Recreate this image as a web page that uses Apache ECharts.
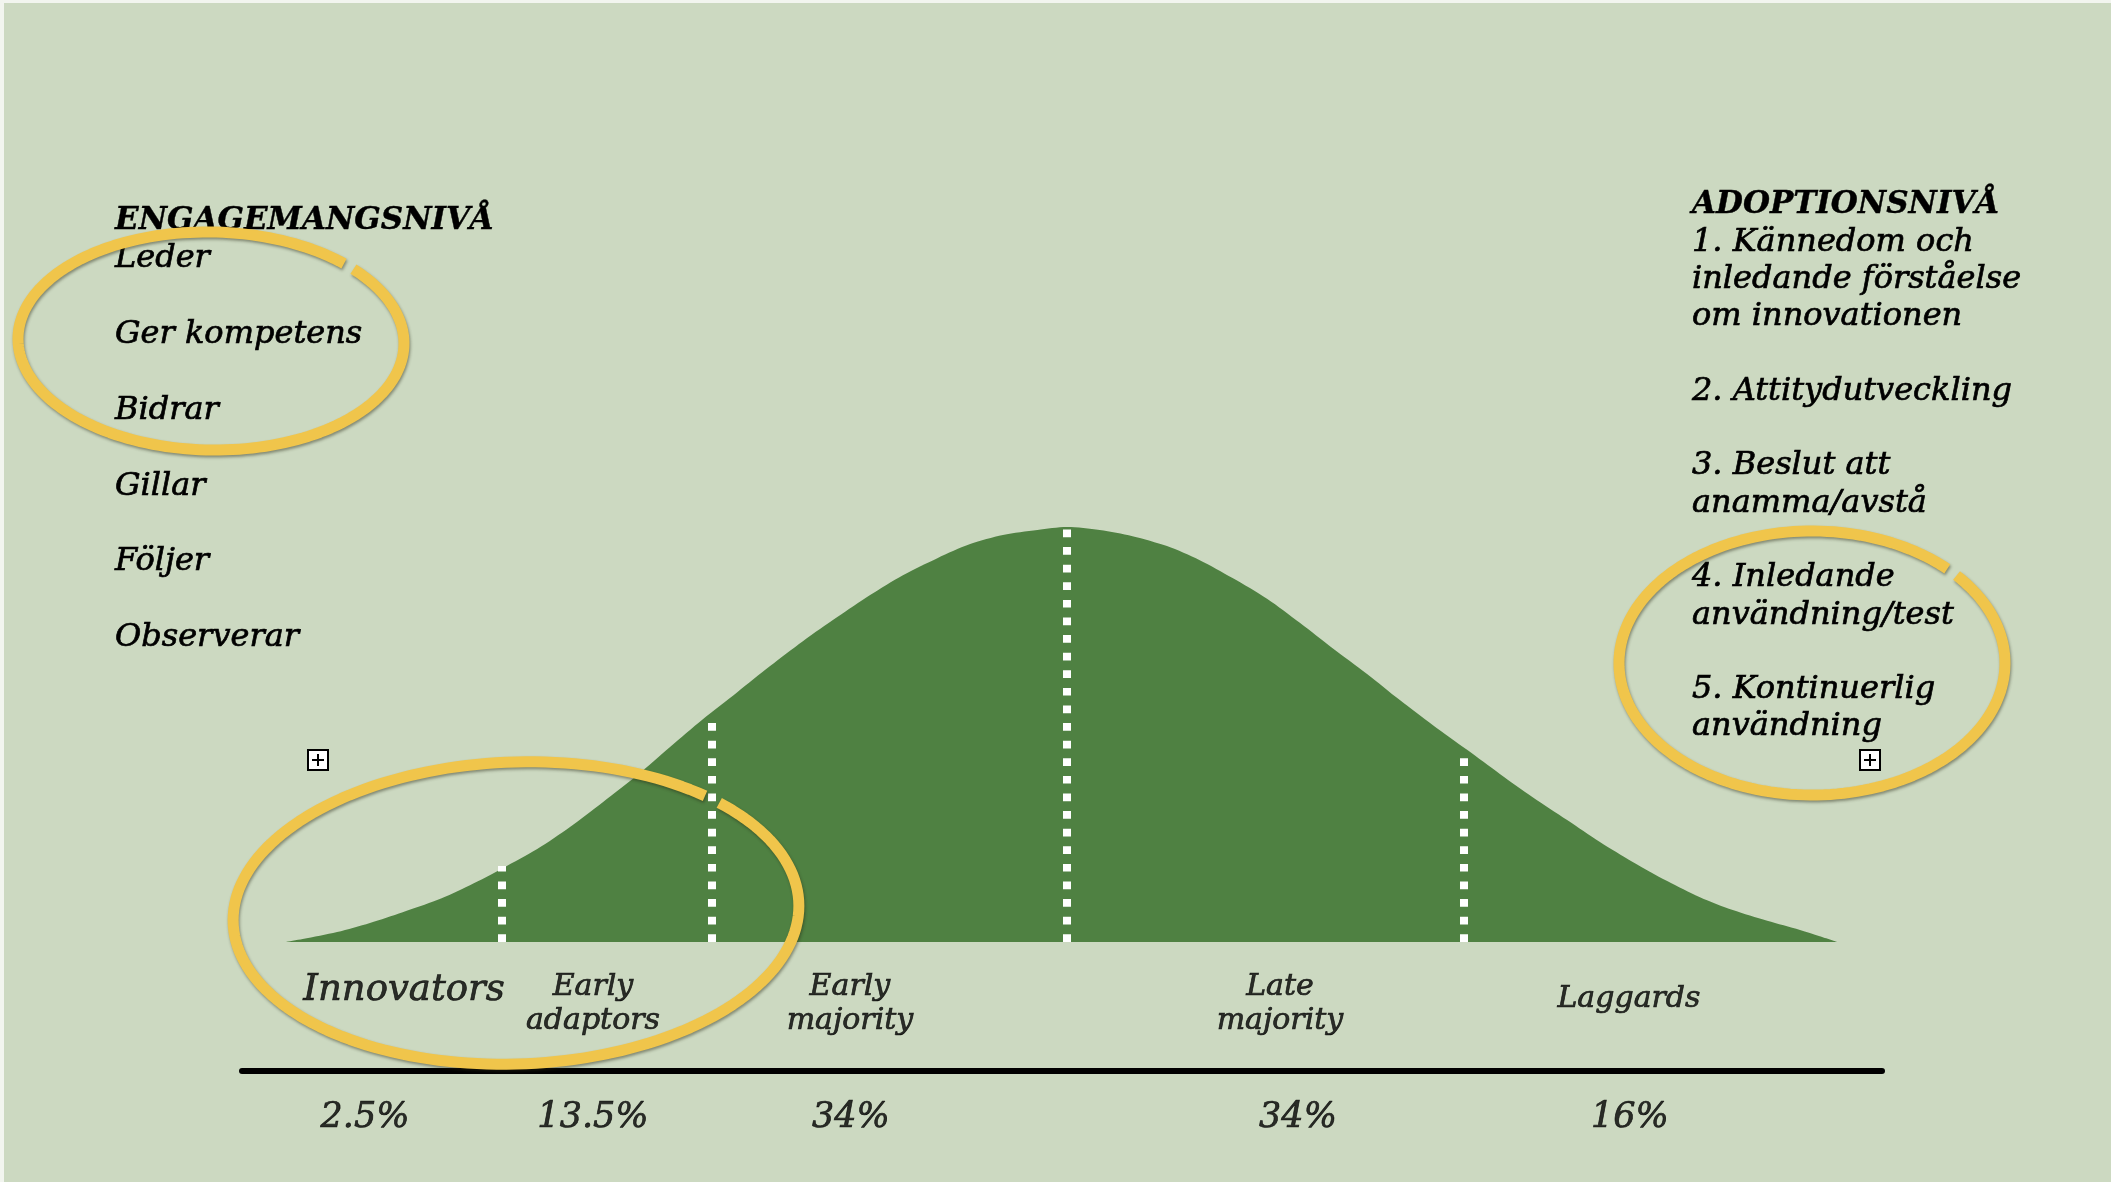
<!DOCTYPE html>
<html>
<head>
<meta charset="utf-8">
<script src="https://cdn.jsdelivr.net/npm/echarts@6/dist/echarts.min.js"></script>
<style>
html, body { margin: 0; padding: 0; background: #CCD9C1; }
#chart { width: 2111px; height: 1182px; }
</style>
</head>
<body>
<div id="chart"></div>
<script>
// ---------- DATA ----------
// Bell curve outline: x in units along the axis (0..100), height in % of the peak
const curveX = [2.7, 3.7, 5.8, 7.8, 9.8, 11.9, 13.9, 15.9, 18.0, 20.0, 22.0, 24.1, 26.1, 28.1, 30.2, 32.2,
  34.2, 36.3, 38.3, 40.3, 42.4, 44.4, 46.4, 48.5, 50.3, 52.3, 54.3, 56.4, 58.4, 60.4, 62.5, 64.5,
  66.5, 68.6, 70.6, 72.6, 74.7, 76.7, 78.7, 80.8, 82.8, 84.8, 86.9, 88.9, 90.9, 93.0, 95.0, 96.2, 97.3];
const curveHeight = [0, 0.7, 2.4, 4.6, 7.2, 10.1, 13.7, 17.8, 22.4, 27.7, 33.7, 40.2, 47.0, 53.7, 60.2, 66.5,
  72.5, 78.3, 83.6, 88.4, 92.5, 95.9, 98.1, 99.3, 100, 99.3, 97.8, 95.4, 92.0, 87.7, 82.7, 76.9,
  70.8, 64.6, 58.3, 52.3, 46.3, 40.5, 34.9, 29.4, 24.1, 19.3, 14.7, 10.8, 7.7, 5.1, 2.9, 1.4, 0];
// Dotted segment boundaries
const boundaryX = [15.85, 28.66, 50.3, 74.51];
const boundaryTop = [18.3, 53.3, 100, 44.6];
// Adopter categories and their shares
const categories = ['Innovators', 'Early\nadaptors', 'Early\nmajority', 'Late\nmajority', 'Laggards'];
const shares = [2.5, 13.5, 34, 34, 16];
// Side texts
const engagementHeader = 'ENGAGEMANGSNIVÅ';
const engagementLevels = ['Leder', 'Ger kompetens', 'Bidrar', 'Gillar', 'Följer', 'Observerar'];
const adoptionHeader = 'ADOPTIONSNIVÅ';
const adoptionStages = [
  '1. Kännedom och\ninledande förståelse\nom innovationen',
  '2. Attitydutveckling',
  '3. Beslut att\nanamma/avstå',
  '4. Inledande\nanvändning/test',
  '5. Kontinuerlig\nanvändning'
];

// ---------- LAYOUT / STYLE ----------
const FONT = '"DejaVu Serif"';
const catLabelX = [9.88, 21.4, 37.07, 63.29, 84.57];
const shareLabelX = [7.5, 21.4, 37.13, 64.39, 84.63];
const catLabelY = -15;
const shareLabelY = -42.4;
const MID = 0.346; // baseline offset ratio for middle-aligned text

const graphics = [];
graphics.push({ type: 'rect', shape: { x: 0, y: 0, width: 2111, height: 3 }, style: { fill: '#F2F5EF' }, z: 50 });
graphics.push({ type: 'rect', shape: { x: 0, y: 0, width: 4, height: 1182 }, style: { fill: '#F2F5EF' }, z: 50 });

function addLine(text, x, baseline, size, bold) {
  graphics.push({
    type: 'text', x: x, y: baseline - MID * size, z: 60,
    style: {
      text: text, fill: '#000', stroke: '#000', lineWidth: bold ? 0.4 : 0.7,
      align: 'left', verticalAlign: 'middle',
      font: 'italic ' + (bold ? 'bold ' : '') + size + 'px ' + FONT
    }
  });
}
const BODY = 32, HEAD = 31, leftStep = 37.9;
addLine(engagementHeader, 115, 232, HEAD, true);
engagementLevels.forEach((t, i) => addLine(t, 115, 232 + leftStep * (1 + 2 * i), BODY, false));
const rightStep = 37.3;
addLine(adoptionHeader, 1692, 216, HEAD, true);
let k = 1;
adoptionStages.forEach((stage) => {
  stage.split('\n').forEach((ln) => { addLine(ln, 1692, 216 + rightStep * k, BODY, false); k++; });
  k++;
});

// Hand-drawn yellow ellipses (annotations) as an open outline with a small break
function chalkEllipse(cx, cy, rx, ry, gapDeg, rotDeg) {
  const r = rotDeg * Math.PI / 180;
  const pts = [];
  for (let d = 2; d <= 358; d += 2) {
    const a = (gapDeg + d) * Math.PI / 180;
    const x = rx * Math.cos(a), y = ry * Math.sin(a);
    pts.push([cx + x * Math.cos(r) - y * Math.sin(r), cy + x * Math.sin(r) + y * Math.cos(r)]);
  }
  graphics.push({
    type: 'polyline', z: 80, shape: { points: pts },
    style: {
      fill: null, stroke: '#F0C54B', lineWidth: 11, lineJoin: 'round', lineCap: 'butt',
      shadowBlur: 3, shadowColor: 'rgba(40,40,20,0.45)', shadowOffsetX: 1, shadowOffsetY: 2
    }
  });
}
chalkEllipse(211, 341, 193, 109, -45, 1);
chalkEllipse(516, 913, 283, 151, -45, -2);
chalkEllipse(1812, 663, 193, 132, -43.5, 0);

function plusBox(x, y) {
  graphics.push({ type: 'rect', shape: { x: x, y: y, width: 20, height: 20 }, style: { fill: '#fff', stroke: '#000', lineWidth: 2 }, z: 70 });
  graphics.push({ type: 'line', shape: { x1: x + 4, y1: y + 10, x2: x + 16, y2: y + 10 }, style: { stroke: '#000', lineWidth: 2 }, z: 71 });
  graphics.push({ type: 'line', shape: { x1: x + 10, y1: y + 4, x2: x + 10, y2: y + 16 }, style: { stroke: '#000', lineWidth: 2 }, z: 71 });
}
plusBox(308, 750);
plusBox(1860, 750);

const labelWeight = { textBorderColor: '#000', textBorderWidth: 0.7 };

const chart = echarts.init(document.getElementById('chart'), null, { renderer: 'canvas' });
chart.setOption({
  backgroundColor: '#CCD9C1',
  animation: false,
  grid: { left: 242, right: 229, top: 527, bottom: 111 },
  xAxis: {
    type: 'value', min: 0, max: 100,
    axisLine: { show: true, onZero: false, lineStyle: { color: '#000', width: 6 } },
    axisTick: { show: false }, axisLabel: { show: false }, splitLine: { show: false }
  },
  yAxis: { type: 'value', min: -31.08, max: 100, show: false },
  series: [
    {
      type: 'line', name: 'curve', z: 2,
      data: curveX.map((x, i) => [x, curveHeight[i]]),
      smooth: 0.3, symbol: 'none',
      lineStyle: { width: 0 },
      areaStyle: { color: '#4F8142', opacity: 1, origin: 'auto' },
      silent: true
    },
    {
      type: 'lines', coordinateSystem: 'cartesian2d', z: 3, silent: true,
      data: boundaryX.map((x, i) => ({ coords: [[x, 0], [x, boundaryTop[i]]] })),
      lineStyle: { color: '#FFFFFF', width: 8, type: [7.7, 9.9], opacity: 1, cap: 'butt', curveness: 0 }
    },
    {
      type: 'scatter', z: 5, symbolSize: 0, clip: false, silent: true,
      data: categories.map((c, i) => {
        const item = { value: [catLabelX[i], catLabelY], name: c };
        if (i === 0) item.label = { fontSize: 37, offset: [0, -14] };
        if (i === 4) item.label = { offset: [0, -5.5] };
        return item;
      }),
      label: Object.assign({
        show: true, position: 'inside', formatter: '{b}', color: '#000',
        fontFamily: 'DejaVu Serif', fontStyle: 'italic', fontSize: 30, lineHeight: 34, align: 'center', verticalAlign: 'middle'
      }, labelWeight)
    },
    {
      type: 'scatter', z: 5, symbolSize: 0, clip: false, silent: true,
      data: shares.map((s, i) => ({ value: [shareLabelX[i], shareLabelY], name: s + '%' })),
      label: Object.assign({
        show: true, position: 'inside', formatter: '{b}', color: '#000',
        fontFamily: 'DejaVu Serif', fontStyle: 'italic', fontSize: 35, align: 'center', verticalAlign: 'middle'
      }, labelWeight)
    }
  ],
  graphic: { elements: graphics }
});
</script>
</body>
</html>
